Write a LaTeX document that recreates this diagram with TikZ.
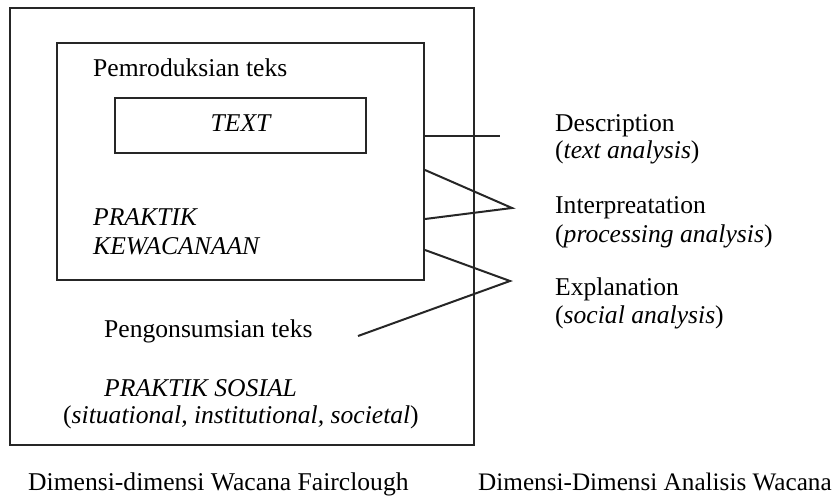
\documentclass[tikz,border=0pt]{standalone}
\usepackage{fontspec}
\setmainfont{Liberation Serif}
\begin{document}
\begin{tikzpicture}[x=1pt,y=-1pt,
  box/.style={draw=black!85,line width=2pt,inner sep=0pt,rectangle},
  lbl/.style={anchor=base west,inner sep=0pt,font=\fontsize{25.6}{29}\selectfont},
  conn/.style={draw=black!85,line width=2pt,line join=miter}]
\useasboundingbox (0,0) rectangle (837,497);
% boxes
\node[box,minimum width=464pt,minimum height=437pt] (outer) at (242,226.5) {};
\node[box,minimum width=367pt,minimum height=237pt] (mid) at (240.5,161.5) {};
\node[box,minimum width=251pt,minimum height=55pt] (textbox) at (240.5,125.5) {};
% texts inside
\node[lbl] (prod) at (93,77) {Pemroduksian teks};
\node[lbl,anchor=base] (txt) at (240.5,132) {\itshape TEXT};
\node[lbl] (pk1) at (93,225) {\itshape PRAKTIK};
\node[lbl] (pk2) at (93,254) {\itshape KEWACANAAN};
\node[lbl] (kons) at (104,337) {Pengonsumsian teks};
\node[lbl] (ps) at (104,396) {\itshape PRAKTIK SOSIAL};
\node[lbl] (sit) at (63,423) {(\textit{situational, institutional, societal})};
% captions
\node[lbl] (cap1) at (28,490) {Dimensi-dimensi Wacana Fairclough};
\node[lbl,font=\fontsize{25.2}{29}\selectfont] (cap2) at (478,490) {Dimensi-Dimensi Analisis Wacana};
% right labels
\node[lbl] (desc) at (555,132) {Description};
\node[lbl] (desc2) at (555,159) {(\textit{text analysis})};
\node[lbl] (interp) at (555,213) {Interpreatation};
\node[lbl] (interp2) at (555,242) {(\textit{processing analysis})};
\node[lbl] (expl) at (555,295) {Explanation};
\node[lbl] (expl2) at (555,323) {(\textit{social analysis})};
% connector coordinates
\coordinate (dEnd) at (500,136);
\coordinate (iA) at (0,170);
\coordinate (iB) at (0,219);
\coordinate (iApex) at (512,208);
\coordinate (eA) at (0,250);
\coordinate (eApex) at (510,281);
\coordinate (eEnd) at (358,336);
% connectors
\draw[conn] (mid.east |- dEnd) -- (dEnd);
\draw[conn] (mid.east |- iA) -- (iApex) -- (mid.east |- iB);
\draw[conn] (mid.east |- eA) -- (eApex) -- (eEnd);
\end{tikzpicture}
\end{document}
